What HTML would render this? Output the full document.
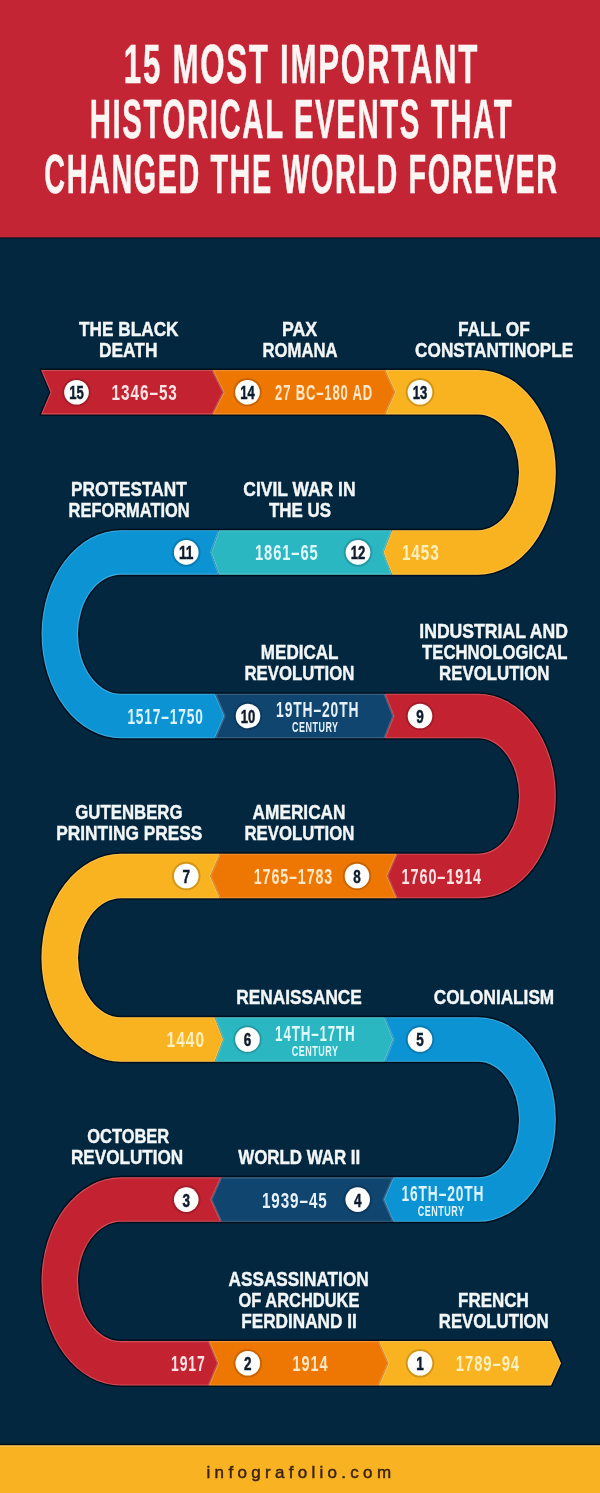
<!DOCTYPE html>
<html><head><meta charset="utf-8"><title>15 Most Important Historical Events That Changed the World Forever</title>
<style>
html,body{margin:0;padding:0;background:#02273f;}
body{width:600px;height:1493px;overflow:hidden;}
svg{display:block;}
svg text{font-family:'Liberation Sans', Arial, sans-serif;}
</style></head>
<body>
<svg width="600" height="1493" viewBox="0 0 600 1493">
<rect x="0" y="0" width="600" height="1493" fill="#02273f"/>
<rect x="0" y="0" width="600" height="237.5" fill="#c32534"/>
<rect x="0" y="237.5" width="600" height="1.5" fill="#0a0f1c" opacity="0.55"/>
<text x="301.5" y="83.3" font-size="55.2" font-weight="bold" text-anchor="middle" textLength="355.4" lengthAdjust="spacingAndGlyphs" fill="#fbf6f4" stroke="#fbf6f4" stroke-width="0.5" letter-spacing="3">15 MOST IMPORTANT</text>
<text x="301.5" y="138.3" font-size="55.2" font-weight="bold" text-anchor="middle" textLength="423.4" lengthAdjust="spacingAndGlyphs" fill="#fbf6f4" stroke="#fbf6f4" stroke-width="0.5" letter-spacing="3">HISTORICAL EVENTS THAT</text>
<text x="301.5" y="193.3" font-size="55.2" font-weight="bold" text-anchor="middle" textLength="514.4" lengthAdjust="spacingAndGlyphs" fill="#fbf6f4" stroke="#fbf6f4" stroke-width="0.5" letter-spacing="3">CHANGED THE WORLD FOREVER</text>
<defs><clipPath id="c0"><path d="M41,369.95 L212.5,369.95 L223.5,392.2 L212.5,414.45 L41,414.45 L50.5,392.2 Z"/></clipPath><clipPath id="c1"><path d="M212.5,369.95 L385,369.95 L395,392.2 L385,414.45 L212.5,414.45 L223.5,392.2 Z"/></clipPath><clipPath id="c2"><path d="M385,369.95 L478,369.95 A77.8,102.35 0 0 1 478,574.65 L392,574.65 L383.3,552.4 L392,530.15 L478,530.15 A41,57.85 0 0 0 478,414.45 L385,414.45 L395,392.2 Z"/></clipPath><clipPath id="c3"><path d="M219,530.15 L392,530.15 L383.3,552.4 L392,574.65 L219,574.65 L211,552.4 Z"/></clipPath><clipPath id="c4"><path d="M219,530.15 L121,530.15 A79.5,104.05 0 0 0 121,738.25 L215,738.25 L224.5,716 L215,693.75 L121,693.75 A43,59.55 0 0 1 121,574.65 L219,574.65 L211,552.4 Z"/></clipPath><clipPath id="c5"><path d="M215,693.75 L384.6,693.75 L393.3,716 L384.6,738.25 L215,738.25 L224.5,716 Z"/></clipPath><clipPath id="c6"><path d="M384.6,693.75 L478,693.75 A77.8,102.25 0 0 1 478,898.25 L396.7,898.25 L387.2,876 L396.7,853.75 L478,853.75 A41,57.75 0 0 0 478,738.25 L384.6,738.25 L393.3,716 Z"/></clipPath><clipPath id="c7"><path d="M220,853.75 L396.7,853.75 L387.2,876 L396.7,898.25 L220,898.25 L210.3,876 Z"/></clipPath><clipPath id="c8"><path d="M220,853.75 L121,853.75 A79.5,104 0 0 0 121,1061.75 L214.7,1061.75 L223.3,1039.5 L214.7,1017.25 L121,1017.25 A43,59.5 0 0 1 121,898.25 L220,898.25 L210.3,876 Z"/></clipPath><clipPath id="c9"><path d="M214.7,1017.25 L384.5,1017.25 L393.5,1039.5 L384.5,1061.75 L214.7,1061.75 L223.3,1039.5 Z"/></clipPath><clipPath id="c10"><path d="M384.5,1017.25 L478,1017.25 A77.8,102.3 0 0 1 478,1221.85 L393.3,1221.85 L383.7,1199.6 L393.3,1177.35 L478,1177.35 A41,57.8 0 0 0 478,1061.75 L384.5,1061.75 L393.5,1039.5 Z"/></clipPath><clipPath id="c11"><path d="M221.2,1177.35 L393.3,1177.35 L383.7,1199.6 L393.3,1221.85 L221.2,1221.85 L211.2,1199.6 Z"/></clipPath><clipPath id="c12"><path d="M221.2,1177.35 L121,1177.35 A79.5,104.1 0 0 0 121,1385.55 L208.7,1385.55 L218,1363.3 L208.7,1341.05 L121,1341.05 A43,59.6 0 0 1 121,1221.85 L221.2,1221.85 L211.2,1199.6 Z"/></clipPath><clipPath id="c13"><path d="M208.7,1341.05 L378.7,1341.05 L388.3,1363.3 L378.7,1385.55 L208.7,1385.55 L218,1363.3 Z"/></clipPath><clipPath id="c14"><path d="M378.7,1341.05 L551,1341.05 L561,1363.3 L551,1385.55 L378.7,1385.55 L388.3,1363.3 Z"/></clipPath></defs>
<g fill="#000a14" stroke="#000a14" stroke-width="3" stroke-linejoin="round" opacity="0.8"><path d="M41,369.95 L212.5,369.95 L223.5,392.2 L212.5,414.45 L41,414.45 L50.5,392.2 Z"/><path d="M212.5,369.95 L385,369.95 L395,392.2 L385,414.45 L212.5,414.45 L223.5,392.2 Z"/><path d="M385,369.95 L478,369.95 A77.8,102.35 0 0 1 478,574.65 L392,574.65 L383.3,552.4 L392,530.15 L478,530.15 A41,57.85 0 0 0 478,414.45 L385,414.45 L395,392.2 Z"/><path d="M219,530.15 L392,530.15 L383.3,552.4 L392,574.65 L219,574.65 L211,552.4 Z"/><path d="M219,530.15 L121,530.15 A79.5,104.05 0 0 0 121,738.25 L215,738.25 L224.5,716 L215,693.75 L121,693.75 A43,59.55 0 0 1 121,574.65 L219,574.65 L211,552.4 Z"/><path d="M215,693.75 L384.6,693.75 L393.3,716 L384.6,738.25 L215,738.25 L224.5,716 Z"/><path d="M384.6,693.75 L478,693.75 A77.8,102.25 0 0 1 478,898.25 L396.7,898.25 L387.2,876 L396.7,853.75 L478,853.75 A41,57.75 0 0 0 478,738.25 L384.6,738.25 L393.3,716 Z"/><path d="M220,853.75 L396.7,853.75 L387.2,876 L396.7,898.25 L220,898.25 L210.3,876 Z"/><path d="M220,853.75 L121,853.75 A79.5,104 0 0 0 121,1061.75 L214.7,1061.75 L223.3,1039.5 L214.7,1017.25 L121,1017.25 A43,59.5 0 0 1 121,898.25 L220,898.25 L210.3,876 Z"/><path d="M214.7,1017.25 L384.5,1017.25 L393.5,1039.5 L384.5,1061.75 L214.7,1061.75 L223.3,1039.5 Z"/><path d="M384.5,1017.25 L478,1017.25 A77.8,102.3 0 0 1 478,1221.85 L393.3,1221.85 L383.7,1199.6 L393.3,1177.35 L478,1177.35 A41,57.8 0 0 0 478,1061.75 L384.5,1061.75 L393.5,1039.5 Z"/><path d="M221.2,1177.35 L393.3,1177.35 L383.7,1199.6 L393.3,1221.85 L221.2,1221.85 L211.2,1199.6 Z"/><path d="M221.2,1177.35 L121,1177.35 A79.5,104.1 0 0 0 121,1385.55 L208.7,1385.55 L218,1363.3 L208.7,1341.05 L121,1341.05 A43,59.6 0 0 1 121,1221.85 L221.2,1221.85 L211.2,1199.6 Z"/><path d="M208.7,1341.05 L378.7,1341.05 L388.3,1363.3 L378.7,1385.55 L208.7,1385.55 L218,1363.3 Z"/><path d="M378.7,1341.05 L551,1341.05 L561,1363.3 L551,1385.55 L378.7,1385.55 L388.3,1363.3 Z"/></g>
<path d="M41,369.95 L212.5,369.95 L223.5,392.2 L212.5,414.45 L41,414.45 L50.5,392.2 Z" fill="#c32231"/>
<path d="M212.5,369.95 L385,369.95 L395,392.2 L385,414.45 L212.5,414.45 L223.5,392.2 Z" fill="#ee7704"/>
<path d="M385,369.95 L478,369.95 A77.8,102.35 0 0 1 478,574.65 L392,574.65 L383.3,552.4 L392,530.15 L478,530.15 A41,57.85 0 0 0 478,414.45 L385,414.45 L395,392.2 Z" fill="#f9b220"/>
<path d="M219,530.15 L392,530.15 L383.3,552.4 L392,574.65 L219,574.65 L211,552.4 Z" fill="#2bb7c1"/>
<path d="M219,530.15 L121,530.15 A79.5,104.05 0 0 0 121,738.25 L215,738.25 L224.5,716 L215,693.75 L121,693.75 A43,59.55 0 0 1 121,574.65 L219,574.65 L211,552.4 Z" fill="#0c93d3"/>
<path d="M215,693.75 L384.6,693.75 L393.3,716 L384.6,738.25 L215,738.25 L224.5,716 Z" fill="#0f456e"/>
<path d="M384.6,693.75 L478,693.75 A77.8,102.25 0 0 1 478,898.25 L396.7,898.25 L387.2,876 L396.7,853.75 L478,853.75 A41,57.75 0 0 0 478,738.25 L384.6,738.25 L393.3,716 Z" fill="#c32231"/>
<path d="M220,853.75 L396.7,853.75 L387.2,876 L396.7,898.25 L220,898.25 L210.3,876 Z" fill="#ee7704"/>
<path d="M220,853.75 L121,853.75 A79.5,104 0 0 0 121,1061.75 L214.7,1061.75 L223.3,1039.5 L214.7,1017.25 L121,1017.25 A43,59.5 0 0 1 121,898.25 L220,898.25 L210.3,876 Z" fill="#f9b220"/>
<path d="M214.7,1017.25 L384.5,1017.25 L393.5,1039.5 L384.5,1061.75 L214.7,1061.75 L223.3,1039.5 Z" fill="#2bb7c1"/>
<path d="M384.5,1017.25 L478,1017.25 A77.8,102.3 0 0 1 478,1221.85 L393.3,1221.85 L383.7,1199.6 L393.3,1177.35 L478,1177.35 A41,57.8 0 0 0 478,1061.75 L384.5,1061.75 L393.5,1039.5 Z" fill="#0c93d3"/>
<path d="M221.2,1177.35 L393.3,1177.35 L383.7,1199.6 L393.3,1221.85 L221.2,1221.85 L211.2,1199.6 Z" fill="#0f456e"/>
<path d="M221.2,1177.35 L121,1177.35 A79.5,104.1 0 0 0 121,1385.55 L208.7,1385.55 L218,1363.3 L208.7,1341.05 L121,1341.05 A43,59.6 0 0 1 121,1221.85 L221.2,1221.85 L211.2,1199.6 Z" fill="#c32231"/>
<path d="M208.7,1341.05 L378.7,1341.05 L388.3,1363.3 L378.7,1385.55 L208.7,1385.55 L218,1363.3 Z" fill="#ee7704"/>
<path d="M378.7,1341.05 L551,1341.05 L561,1363.3 L551,1385.55 L378.7,1385.55 L388.3,1363.3 Z" fill="#f9b220"/>
<g fill="none" stroke="#ffffff" stroke-opacity="0.2" stroke-width="2.2" stroke-linejoin="round"><path d="M41,369.95 L212.5,369.95 L223.5,392.2 L212.5,414.45 L41,414.45 L50.5,392.2 Z" clip-path="url(#c0)"/><path d="M212.5,369.95 L385,369.95 L395,392.2 L385,414.45 L212.5,414.45 L223.5,392.2 Z" clip-path="url(#c1)"/><path d="M385,369.95 L478,369.95 A77.8,102.35 0 0 1 478,574.65 L392,574.65 L383.3,552.4 L392,530.15 L478,530.15 A41,57.85 0 0 0 478,414.45 L385,414.45 L395,392.2 Z" clip-path="url(#c2)"/><path d="M219,530.15 L392,530.15 L383.3,552.4 L392,574.65 L219,574.65 L211,552.4 Z" clip-path="url(#c3)"/><path d="M219,530.15 L121,530.15 A79.5,104.05 0 0 0 121,738.25 L215,738.25 L224.5,716 L215,693.75 L121,693.75 A43,59.55 0 0 1 121,574.65 L219,574.65 L211,552.4 Z" clip-path="url(#c4)"/><path d="M215,693.75 L384.6,693.75 L393.3,716 L384.6,738.25 L215,738.25 L224.5,716 Z" clip-path="url(#c5)"/><path d="M384.6,693.75 L478,693.75 A77.8,102.25 0 0 1 478,898.25 L396.7,898.25 L387.2,876 L396.7,853.75 L478,853.75 A41,57.75 0 0 0 478,738.25 L384.6,738.25 L393.3,716 Z" clip-path="url(#c6)"/><path d="M220,853.75 L396.7,853.75 L387.2,876 L396.7,898.25 L220,898.25 L210.3,876 Z" clip-path="url(#c7)"/><path d="M220,853.75 L121,853.75 A79.5,104 0 0 0 121,1061.75 L214.7,1061.75 L223.3,1039.5 L214.7,1017.25 L121,1017.25 A43,59.5 0 0 1 121,898.25 L220,898.25 L210.3,876 Z" clip-path="url(#c8)"/><path d="M214.7,1017.25 L384.5,1017.25 L393.5,1039.5 L384.5,1061.75 L214.7,1061.75 L223.3,1039.5 Z" clip-path="url(#c9)"/><path d="M384.5,1017.25 L478,1017.25 A77.8,102.3 0 0 1 478,1221.85 L393.3,1221.85 L383.7,1199.6 L393.3,1177.35 L478,1177.35 A41,57.8 0 0 0 478,1061.75 L384.5,1061.75 L393.5,1039.5 Z" clip-path="url(#c10)"/><path d="M221.2,1177.35 L393.3,1177.35 L383.7,1199.6 L393.3,1221.85 L221.2,1221.85 L211.2,1199.6 Z" clip-path="url(#c11)"/><path d="M221.2,1177.35 L121,1177.35 A79.5,104.1 0 0 0 121,1385.55 L208.7,1385.55 L218,1363.3 L208.7,1341.05 L121,1341.05 A43,59.6 0 0 1 121,1221.85 L221.2,1221.85 L211.2,1199.6 Z" clip-path="url(#c12)"/><path d="M208.7,1341.05 L378.7,1341.05 L388.3,1363.3 L378.7,1385.55 L208.7,1385.55 L218,1363.3 Z" clip-path="url(#c13)"/><path d="M378.7,1341.05 L551,1341.05 L561,1363.3 L551,1385.55 L378.7,1385.55 L388.3,1363.3 Z" clip-path="url(#c14)"/></g>
<circle cx="76.5" cy="392.2" r="13.3" fill="none" stroke="rgba(0,0,0,0.16)" stroke-width="2"/>
<circle cx="76.5" cy="392.2" r="12.3" fill="#fdfdfb"/>
<text x="76.5" y="399.1" font-size="19.1" font-weight="bold" text-anchor="middle" textLength="14.5" lengthAdjust="spacingAndGlyphs" fill="#0d1c2e" stroke="#0d1c2e" stroke-width="0.5">15</text>
<circle cx="247.5" cy="392.2" r="13.3" fill="none" stroke="rgba(0,0,0,0.16)" stroke-width="2"/>
<circle cx="247.5" cy="392.2" r="12.3" fill="#fdfdfb"/>
<text x="247.5" y="399.1" font-size="19.1" font-weight="bold" text-anchor="middle" textLength="14.5" lengthAdjust="spacingAndGlyphs" fill="#0d1c2e" stroke="#0d1c2e" stroke-width="0.5">14</text>
<circle cx="420" cy="392.2" r="13.3" fill="none" stroke="rgba(0,0,0,0.16)" stroke-width="2"/>
<circle cx="420" cy="392.2" r="12.3" fill="#fdfdfb"/>
<text x="420" y="399.1" font-size="19.1" font-weight="bold" text-anchor="middle" textLength="14.5" lengthAdjust="spacingAndGlyphs" fill="#0d1c2e" stroke="#0d1c2e" stroke-width="0.5">13</text>
<circle cx="186.25" cy="552.4" r="13.3" fill="none" stroke="rgba(0,0,0,0.16)" stroke-width="2"/>
<circle cx="186.25" cy="552.4" r="12.3" fill="#fdfdfb"/>
<text x="186.25" y="559.3" font-size="19.1" font-weight="bold" text-anchor="middle" textLength="14.5" lengthAdjust="spacingAndGlyphs" fill="#0d1c2e" stroke="#0d1c2e" stroke-width="0.5">11</text>
<circle cx="358" cy="552.4" r="13.3" fill="none" stroke="rgba(0,0,0,0.16)" stroke-width="2"/>
<circle cx="358" cy="552.4" r="12.3" fill="#fdfdfb"/>
<text x="358" y="559.3" font-size="19.1" font-weight="bold" text-anchor="middle" textLength="14.5" lengthAdjust="spacingAndGlyphs" fill="#0d1c2e" stroke="#0d1c2e" stroke-width="0.5">12</text>
<circle cx="248" cy="716" r="13.3" fill="none" stroke="rgba(0,0,0,0.16)" stroke-width="2"/>
<circle cx="248" cy="716" r="12.3" fill="#fdfdfb"/>
<text x="248" y="722.9" font-size="19.1" font-weight="bold" text-anchor="middle" textLength="14.5" lengthAdjust="spacingAndGlyphs" fill="#0d1c2e" stroke="#0d1c2e" stroke-width="0.5">10</text>
<circle cx="420" cy="716" r="13.3" fill="none" stroke="rgba(0,0,0,0.16)" stroke-width="2"/>
<circle cx="420" cy="716" r="12.3" fill="#fdfdfb"/>
<text x="420" y="722.9" font-size="19.1" font-weight="bold" text-anchor="middle" textLength="7.5" lengthAdjust="spacingAndGlyphs" fill="#0d1c2e" stroke="#0d1c2e" stroke-width="0.5">9</text>
<circle cx="186.25" cy="876" r="13.3" fill="none" stroke="rgba(0,0,0,0.16)" stroke-width="2"/>
<circle cx="186.25" cy="876" r="12.3" fill="#fdfdfb"/>
<text x="186.25" y="882.9" font-size="19.1" font-weight="bold" text-anchor="middle" textLength="7.5" lengthAdjust="spacingAndGlyphs" fill="#0d1c2e" stroke="#0d1c2e" stroke-width="0.5">7</text>
<circle cx="357" cy="876" r="13.3" fill="none" stroke="rgba(0,0,0,0.16)" stroke-width="2"/>
<circle cx="357" cy="876" r="12.3" fill="#fdfdfb"/>
<text x="357" y="882.9" font-size="19.1" font-weight="bold" text-anchor="middle" textLength="7.5" lengthAdjust="spacingAndGlyphs" fill="#0d1c2e" stroke="#0d1c2e" stroke-width="0.5">8</text>
<circle cx="247.5" cy="1039.5" r="13.3" fill="none" stroke="rgba(0,0,0,0.16)" stroke-width="2"/>
<circle cx="247.5" cy="1039.5" r="12.3" fill="#fdfdfb"/>
<text x="247.5" y="1046.4" font-size="19.1" font-weight="bold" text-anchor="middle" textLength="7.5" lengthAdjust="spacingAndGlyphs" fill="#0d1c2e" stroke="#0d1c2e" stroke-width="0.5">6</text>
<circle cx="420" cy="1039.5" r="13.3" fill="none" stroke="rgba(0,0,0,0.16)" stroke-width="2"/>
<circle cx="420" cy="1039.5" r="12.3" fill="#fdfdfb"/>
<text x="420" y="1046.4" font-size="19.1" font-weight="bold" text-anchor="middle" textLength="7.5" lengthAdjust="spacingAndGlyphs" fill="#0d1c2e" stroke="#0d1c2e" stroke-width="0.5">5</text>
<circle cx="186.25" cy="1199.6" r="13.3" fill="none" stroke="rgba(0,0,0,0.16)" stroke-width="2"/>
<circle cx="186.25" cy="1199.6" r="12.3" fill="#fdfdfb"/>
<text x="186.25" y="1206.5" font-size="19.1" font-weight="bold" text-anchor="middle" textLength="7.5" lengthAdjust="spacingAndGlyphs" fill="#0d1c2e" stroke="#0d1c2e" stroke-width="0.5">3</text>
<circle cx="357.7" cy="1199.6" r="13.3" fill="none" stroke="rgba(0,0,0,0.16)" stroke-width="2"/>
<circle cx="357.7" cy="1199.6" r="12.3" fill="#fdfdfb"/>
<text x="357.7" y="1206.5" font-size="19.1" font-weight="bold" text-anchor="middle" textLength="7.5" lengthAdjust="spacingAndGlyphs" fill="#0d1c2e" stroke="#0d1c2e" stroke-width="0.5">4</text>
<circle cx="247.8" cy="1363.3" r="13.3" fill="none" stroke="rgba(0,0,0,0.16)" stroke-width="2"/>
<circle cx="247.8" cy="1363.3" r="12.3" fill="#fdfdfb"/>
<text x="247.8" y="1370.2" font-size="19.1" font-weight="bold" text-anchor="middle" textLength="7.5" lengthAdjust="spacingAndGlyphs" fill="#0d1c2e" stroke="#0d1c2e" stroke-width="0.5">2</text>
<circle cx="420" cy="1363.3" r="13.3" fill="none" stroke="rgba(0,0,0,0.16)" stroke-width="2"/>
<circle cx="420" cy="1363.3" r="12.3" fill="#fdfdfb"/>
<text x="420" y="1370.2" font-size="19.1" font-weight="bold" text-anchor="middle" textLength="7.5" lengthAdjust="spacingAndGlyphs" fill="#0d1c2e" stroke="#0d1c2e" stroke-width="0.5">1</text>
<text x="128.8" y="335.65" font-size="20.7" font-weight="bold" text-anchor="middle" textLength="99.4" lengthAdjust="spacingAndGlyphs" fill="#f3f6f7" stroke="#f3f6f7" stroke-width="0.45">THE BLACK</text>
<text x="128.25" y="356.65" font-size="20.7" font-weight="bold" text-anchor="middle" textLength="58.5" lengthAdjust="spacingAndGlyphs" fill="#f3f6f7" stroke="#f3f6f7" stroke-width="0.45">DEATH</text>
<text x="299.6" y="335.65" font-size="20.7" font-weight="bold" text-anchor="middle" textLength="35.2" lengthAdjust="spacingAndGlyphs" fill="#f3f6f7" stroke="#f3f6f7" stroke-width="0.45">PAX</text>
<text x="300.05" y="356.65" font-size="20.7" font-weight="bold" text-anchor="middle" textLength="74.9" lengthAdjust="spacingAndGlyphs" fill="#f3f6f7" stroke="#f3f6f7" stroke-width="0.45">ROMANA</text>
<text x="493.9" y="335.65" font-size="20.7" font-weight="bold" text-anchor="middle" textLength="72" lengthAdjust="spacingAndGlyphs" fill="#f3f6f7" stroke="#f3f6f7" stroke-width="0.45">FALL OF</text>
<text x="494.2" y="356.65" font-size="20.7" font-weight="bold" text-anchor="middle" textLength="158.2" lengthAdjust="spacingAndGlyphs" fill="#f3f6f7" stroke="#f3f6f7" stroke-width="0.45">CONSTANTINOPLE</text>
<text x="128.85" y="495.85" font-size="20.7" font-weight="bold" text-anchor="middle" textLength="115.7" lengthAdjust="spacingAndGlyphs" fill="#f3f6f7" stroke="#f3f6f7" stroke-width="0.45">PROTESTANT</text>
<text x="129.15" y="516.85" font-size="20.7" font-weight="bold" text-anchor="middle" textLength="121.1" lengthAdjust="spacingAndGlyphs" fill="#f3f6f7" stroke="#f3f6f7" stroke-width="0.45">REFORMATION</text>
<text x="299.4" y="495.85" font-size="20.7" font-weight="bold" text-anchor="middle" textLength="112.2" lengthAdjust="spacingAndGlyphs" fill="#f3f6f7" stroke="#f3f6f7" stroke-width="0.45">CIVIL WAR IN</text>
<text x="300" y="516.85" font-size="20.7" font-weight="bold" text-anchor="middle" textLength="62" lengthAdjust="spacingAndGlyphs" fill="#f3f6f7" stroke="#f3f6f7" stroke-width="0.45">THE US</text>
<text x="299.65" y="659.45" font-size="20.7" font-weight="bold" text-anchor="middle" textLength="77.7" lengthAdjust="spacingAndGlyphs" fill="#f3f6f7" stroke="#f3f6f7" stroke-width="0.45">MEDICAL</text>
<text x="299.45" y="680.45" font-size="20.7" font-weight="bold" text-anchor="middle" textLength="109.9" lengthAdjust="spacingAndGlyphs" fill="#f3f6f7" stroke="#f3f6f7" stroke-width="0.45">REVOLUTION</text>
<text x="493.65" y="638.45" font-size="20.7" font-weight="bold" text-anchor="middle" textLength="148.7" lengthAdjust="spacingAndGlyphs" fill="#f3f6f7" stroke="#f3f6f7" stroke-width="0.45">INDUSTRIAL AND</text>
<text x="494.75" y="659.45" font-size="20.7" font-weight="bold" text-anchor="middle" textLength="145.3" lengthAdjust="spacingAndGlyphs" fill="#f3f6f7" stroke="#f3f6f7" stroke-width="0.45">TECHNOLOGICAL</text>
<text x="494.3" y="680.45" font-size="20.7" font-weight="bold" text-anchor="middle" textLength="110.4" lengthAdjust="spacingAndGlyphs" fill="#f3f6f7" stroke="#f3f6f7" stroke-width="0.45">REVOLUTION</text>
<text x="128.9" y="819.45" font-size="20.7" font-weight="bold" text-anchor="middle" textLength="107.2" lengthAdjust="spacingAndGlyphs" fill="#f3f6f7" stroke="#f3f6f7" stroke-width="0.45">GUTENBERG</text>
<text x="129.3" y="840.45" font-size="20.7" font-weight="bold" text-anchor="middle" textLength="146" lengthAdjust="spacingAndGlyphs" fill="#f3f6f7" stroke="#f3f6f7" stroke-width="0.45">PRINTING PRESS</text>
<text x="299.05" y="819.45" font-size="20.7" font-weight="bold" text-anchor="middle" textLength="92.9" lengthAdjust="spacingAndGlyphs" fill="#f3f6f7" stroke="#f3f6f7" stroke-width="0.45">AMERICAN</text>
<text x="299.45" y="840.45" font-size="20.7" font-weight="bold" text-anchor="middle" textLength="109.9" lengthAdjust="spacingAndGlyphs" fill="#f3f6f7" stroke="#f3f6f7" stroke-width="0.45">REVOLUTION</text>
<text x="299.05" y="1003.95" font-size="20.7" font-weight="bold" text-anchor="middle" textLength="125.5" lengthAdjust="spacingAndGlyphs" fill="#f3f6f7" stroke="#f3f6f7" stroke-width="0.45">RENAISSANCE</text>
<text x="494" y="1003.95" font-size="20.7" font-weight="bold" text-anchor="middle" textLength="120.4" lengthAdjust="spacingAndGlyphs" fill="#f3f6f7" stroke="#f3f6f7" stroke-width="0.45">COLONIALISM</text>
<text x="128.25" y="1143.05" font-size="20.7" font-weight="bold" text-anchor="middle" textLength="81.9" lengthAdjust="spacingAndGlyphs" fill="#f3f6f7" stroke="#f3f6f7" stroke-width="0.45">OCTOBER</text>
<text x="127.1" y="1164.05" font-size="20.7" font-weight="bold" text-anchor="middle" textLength="112.2" lengthAdjust="spacingAndGlyphs" fill="#f3f6f7" stroke="#f3f6f7" stroke-width="0.45">REVOLUTION</text>
<text x="299.2" y="1164.05" font-size="20.7" font-weight="bold" text-anchor="middle" textLength="122" lengthAdjust="spacingAndGlyphs" fill="#f3f6f7" stroke="#f3f6f7" stroke-width="0.45">WORLD WAR II</text>
<text x="298.65" y="1285.75" font-size="20.7" font-weight="bold" text-anchor="middle" textLength="140.1" lengthAdjust="spacingAndGlyphs" fill="#f3f6f7" stroke="#f3f6f7" stroke-width="0.45">ASSASSINATION</text>
<text x="298.95" y="1306.75" font-size="20.7" font-weight="bold" text-anchor="middle" textLength="120.9" lengthAdjust="spacingAndGlyphs" fill="#f3f6f7" stroke="#f3f6f7" stroke-width="0.45">OF ARCHDUKE</text>
<text x="298.95" y="1327.75" font-size="20.7" font-weight="bold" text-anchor="middle" textLength="115.5" lengthAdjust="spacingAndGlyphs" fill="#f3f6f7" stroke="#f3f6f7" stroke-width="0.45">FERDINAND II</text>
<text x="493.4" y="1306.75" font-size="20.7" font-weight="bold" text-anchor="middle" textLength="70.6" lengthAdjust="spacingAndGlyphs" fill="#f3f6f7" stroke="#f3f6f7" stroke-width="0.45">FRENCH</text>
<text x="493.75" y="1327.75" font-size="20.7" font-weight="bold" text-anchor="middle" textLength="109.9" lengthAdjust="spacingAndGlyphs" fill="#f3f6f7" stroke="#f3f6f7" stroke-width="0.45">REVOLUTION</text>
<text x="144.71" y="400.1" font-size="22.3" font-weight="bold" text-anchor="middle" textLength="66.22" lengthAdjust="spacingAndGlyphs" fill="#fbe4e3" letter-spacing="1.4">1346–53</text>
<text x="324.06" y="400.1" font-size="22.3" font-weight="bold" text-anchor="middle" textLength="97.92" lengthAdjust="spacingAndGlyphs" fill="#fde7c6" letter-spacing="1.4">27 BC–180 AD</text>
<text x="286.81" y="560.3" font-size="22.3" font-weight="bold" text-anchor="middle" textLength="63.82" lengthAdjust="spacingAndGlyphs" fill="#dff8fa" letter-spacing="1.4">1861–65</text>
<text x="420.86" y="560.3" font-size="22.3" font-weight="bold" text-anchor="middle" textLength="37.92" lengthAdjust="spacingAndGlyphs" fill="#fdf0c0" letter-spacing="1.4">1453</text>
<text x="165.56" y="723.9" font-size="22.3" font-weight="bold" text-anchor="middle" textLength="76.32" lengthAdjust="spacingAndGlyphs" fill="#dcf3fd" letter-spacing="1.4">1517–1750</text>
<text x="317.76" y="717.3" font-size="22.3" font-weight="bold" text-anchor="middle" textLength="83.32" lengthAdjust="spacingAndGlyphs" fill="#e6f1fb" letter-spacing="1.4">19TH–20TH</text>
<text x="315.32" y="732.3" font-size="14" font-weight="bold" text-anchor="middle" textLength="46.44" lengthAdjust="spacingAndGlyphs" fill="#e6f1fb" letter-spacing="0.8">CENTURY</text>
<text x="293.46" y="883.9" font-size="22.3" font-weight="bold" text-anchor="middle" textLength="79.32" lengthAdjust="spacingAndGlyphs" fill="#fde7c6" letter-spacing="1.4">1765–1783</text>
<text x="441.81" y="883.9" font-size="22.3" font-weight="bold" text-anchor="middle" textLength="80.42" lengthAdjust="spacingAndGlyphs" fill="#fbe4e3" letter-spacing="1.4">1760–1914</text>
<text x="185.81" y="1047.4" font-size="22.3" font-weight="bold" text-anchor="middle" textLength="38.42" lengthAdjust="spacingAndGlyphs" fill="#fdf0c0" letter-spacing="1.4">1440</text>
<text x="315.36" y="1041.1" font-size="22.3" font-weight="bold" text-anchor="middle" textLength="80.52" lengthAdjust="spacingAndGlyphs" fill="#dff8fa" letter-spacing="1.4">14TH–17TH</text>
<text x="315.12" y="1055.8" font-size="14" font-weight="bold" text-anchor="middle" textLength="46.84" lengthAdjust="spacingAndGlyphs" fill="#dff8fa" letter-spacing="0.8">CENTURY</text>
<text x="294.81" y="1207.5" font-size="22.3" font-weight="bold" text-anchor="middle" textLength="65.82" lengthAdjust="spacingAndGlyphs" fill="#e6f1fb" letter-spacing="1.4">1939–45</text>
<text x="442.96" y="1201.2" font-size="22.3" font-weight="bold" text-anchor="middle" textLength="82.92" lengthAdjust="spacingAndGlyphs" fill="#dcf3fd" letter-spacing="1.4">16TH–20TH</text>
<text x="441.12" y="1216.2" font-size="14" font-weight="bold" text-anchor="middle" textLength="46.84" lengthAdjust="spacingAndGlyphs" fill="#dcf3fd" letter-spacing="0.8">CENTURY</text>
<text x="188.31" y="1371.2" font-size="22.3" font-weight="bold" text-anchor="middle" textLength="34.42" lengthAdjust="spacingAndGlyphs" fill="#fbe4e3" letter-spacing="1.4">1917</text>
<text x="310.56" y="1371.2" font-size="22.3" font-weight="bold" text-anchor="middle" textLength="35.92" lengthAdjust="spacingAndGlyphs" fill="#fde7c6" letter-spacing="1.4">1914</text>
<text x="487.91" y="1371.2" font-size="22.3" font-weight="bold" text-anchor="middle" textLength="64.22" lengthAdjust="spacingAndGlyphs" fill="#fdf0c0" letter-spacing="1.4">1789–94</text>
<rect x="0" y="1445.3" width="600" height="47.7" fill="#f8b222"/>
<rect x="0" y="1443.7" width="600" height="1.6" fill="#000" opacity="0.7"/>
<rect x="0" y="1445.3" width="600" height="1.5" fill="#f2c662" opacity="0.8"/>
<text x="298.8" y="1478.4" font-size="17" font-weight="normal" text-anchor="middle" textLength="184.5" lengthAdjust="spacing" fill="#3b2313" stroke="#3b2313" stroke-width="0.45">infografolio.com</text>
</svg>
</body></html>
